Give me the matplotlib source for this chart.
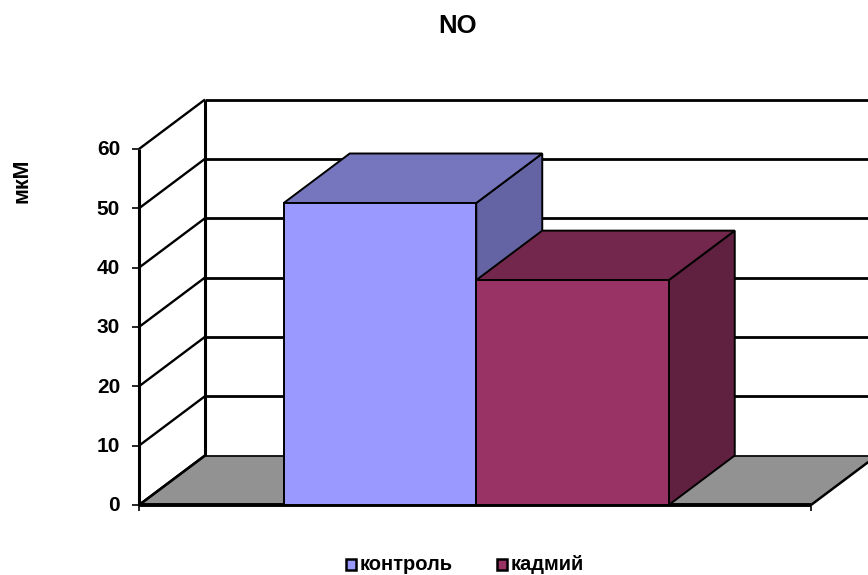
import matplotlib
matplotlib.use('Agg')
import matplotlib.pyplot as plt
from matplotlib.patches import Polygon, Rectangle
from matplotlib.lines import Line2D

plt.rcParams['font.family'] = ['Liberation Sans', 'DejaVu Sans']

title = 'NO'
ylabel = 'мкМ'
series = ['контроль', 'кадмий']
values = [50.9, 37.9]
colors = ['#9999FF', '#993366']
top_colors = ['#7676BE', '#74274D']
side_colors = ['#6464A4', '#60203F']
yticks = [0, 10, 20, 30, 40, 50, 60]
floor_color = '#929292'

W, H = 868, 575
fig = plt.figure(figsize=(W / 100, H / 100), dpi=100)

# front plane of the box: x 139..811 px, y 505..149 px
ax = fig.add_axes([139 / W, (H - 505) / H, (811 - 139) / W, (505 - 149) / H])
bar_w = 192.5
ax.set_xlim((139 - 380) / bar_w, (811 - 380) / bar_w)
ax.set_ylim(0, 60)
ax.axis('off')

# depth offset of the back wall, in data units
dx = 66 / bar_w
dy = 49.5 / (356 / 60)
x0, x1 = ax.get_xlim()
lw = 2.2


def seg(xs, ys, c='black', w=lw, z=1):
    ax.add_line(Line2D(xs, ys, color=c, lw=w, zorder=z, clip_on=False,
                       solid_capstyle='butt'))


# floor
ax.add_patch(Polygon([(x0, 0), (x1, 0), (x1 + dx, dy), (x0 + dx, dy)], closed=True,
                     fc=floor_color, ec='none', zorder=1, clip_on=False))
seg([x1, x1 + dx], [0, dy], w=1.8, z=2)
seg([x0, x0 + dx], [0, dy], w=1.8, z=2)

# gridlines on the side and back walls
for t in yticks:
    seg([x0, x0 + dx], [t, t + dy], w=1.7, z=2)
    seg([x0 + dx, x1 + dx], [t + dy, t + dy], w=2.0 if t else 1.2, z=2)
seg([x0 + dx, x0 + dx], [dy, 60 + dy], z=2)

# value axis with ticks and labels
seg([x0, x0], [0, 60], z=3)
for t in yticks:
    seg([x0 - 7 / bar_w, x0], [t, t], w=1.2, z=3)
    ax.text(x0 - 19 / bar_w, t - 0.15, str(t), ha='right', va='center', fontsize=15,
            fontweight='bold', clip_on=False)

# category axis
seg([x0, x1], [0, 0], w=2.8, z=3)
for xt in (x0, x1):
    seg([xt, xt], [0, -1], w=1.2, z=3)

# bars in pseudo-3D, front face plus top and side faces
for i, (v, name) in enumerate(zip(values, series)):
    l, r = i - 0.5, i + 0.5
    ax.add_patch(Polygon([(r, 0), (r + dx, dy), (r + dx, v + dy), (r, v)], closed=True,
                         fc=side_colors[i], ec='black', lw=1.4, zorder=4 + i, joinstyle='miter'))
    ax.add_patch(Polygon([(l, v), (r, v), (r + dx, v + dy), (l + dx, v + dy)], closed=True,
                         fc=top_colors[i], ec='black', lw=1.4, zorder=4 + i, joinstyle='miter'))
    ax.bar(i, v, width=1.0, color=colors[i], edgecolor='black', linewidth=1.4, zorder=4 + i)

# figure level text and legend
fig.text(458 / W, 1 - 26 / H, title, ha='center', va='center', fontsize=18.5, fontweight='bold')
fig.text(22 / W, 1 - 180.5 / H, ylabel, ha='center', va='center', rotation=90,
         fontsize=15.5, fontweight='bold')

legend_x = [346, 497]
for lx, name, c in zip(legend_x, series, colors):
    fig.add_artist(Rectangle((lx / W, 1 - 570 / H), 10 / W, 11 / H, transform=fig.transFigure,
                             fc=c, ec='black', lw=1.8))
    fig.text((lx + 14) / W, 1 - 565 / H, name, ha='left', va='center', fontsize=14.5,
             fontweight='bold')

fig.savefig('out.png', dpi=100)
